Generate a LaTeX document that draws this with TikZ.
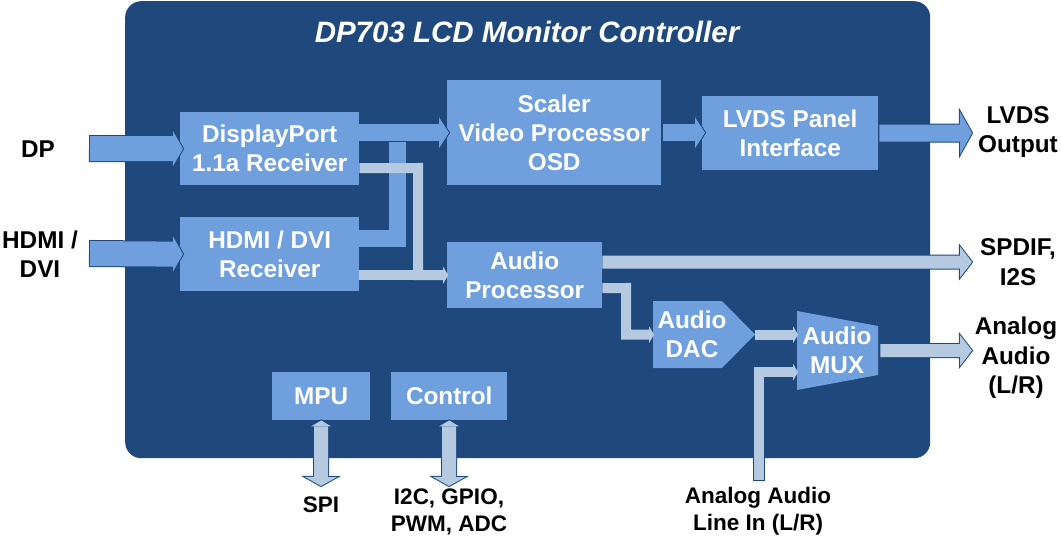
\documentclass[tikz,border=0pt]{standalone}
\usepackage{fontspec}
\setmainfont{Liberation Sans}
\usetikzlibrary{arrows.meta}
\definecolor{bgblue}{RGB}{31,73,125}
\definecolor{boxblue}{RGB}{111,160,221}
\definecolor{lineblue}{RGB}{181,201,225}
\newcommand\boxfont{\bfseries\fontsize{24.3}{29}\selectfont}
\newcommand\lblfont{\bfseries\fontsize{24.3}{29.5}\selectfont}
\newcommand\btmfont{\bfseries\fontsize{22.5}{27}\selectfont}
\newcommand\titlefont{\bfseries\itshape\fontsize{29.5}{34}\selectfont}
\tikzset{
  blk/.style={fill=boxblue, text=white, font=\boxfont, align=center, inner sep=0pt, anchor=north west},
  txt/.style={text=white, font=\boxfont, align=center, inner sep=0pt},
  helper/.style={inner sep=0pt, anchor=north west},
  lbl/.style={text=black, font=\lblfont, align=center, inner sep=0pt},
  btm/.style={text=black, font=\btmfont, align=center, inner sep=0pt},
  arrA/.style={draw=boxblue, line width=25pt, -{Triangle[width=35pt,length=10pt,line width=0pt]},
    preaction={draw=bgblue, line width=27pt, -{Triangle[width=43pt,length=12.3pt,line width=0pt]}, shorten >=-1.2pt, shorten <=-1pt}},
  arrB/.style={draw=boxblue, line width=17pt, -{Triangle[width=31pt,length=10pt,line width=0pt]},
    preaction={draw=bgblue, line width=19pt, -{Triangle[width=37.8pt,length=12.2pt,line width=0pt]}, shorten >=-1.2pt}},
  lineB/.style={draw=boxblue, line width=17pt},
  arrC/.style={draw=lineblue, line width=10pt, -{Triangle[width=17pt,length=5pt,line width=0pt]}},
  arrD/.style={draw=boxblue, line width=17pt, -{Triangle[width=43pt,length=12pt,line width=0pt]},
    preaction={draw=bgblue, line width=19pt, -{Triangle[width=50.7pt,length=14.15pt,line width=0pt]}, shorten >=-1.15pt}},
  arrE/.style={draw=lineblue, line width=13pt, -{Triangle[width=31pt,length=12pt,line width=0pt]},
    preaction={draw=bgblue, line width=15pt, -{Triangle[width=36.9pt,length=14.3pt,line width=0pt]}, shorten >=-1.27pt}},
  arrF/.style={draw=lineblue, line width=14pt, {Triangle[width=20pt,length=6pt,line width=0pt]}-{Triangle[width=32pt,length=9pt,line width=0pt]},
    preaction={draw=bgblue, line width=16pt, {Triangle[width=27.2pt,length=8.2pt,line width=0pt]}-{Triangle[width=39.6pt,length=11.15pt,line width=0pt]}, shorten >=-1.15pt, shorten <=-1.17pt}},
  arrG/.style={draw=lineblue, line width=10pt, -{Triangle[width=17pt,length=5pt,line width=0pt]},
    preaction={draw=bgblue, line width=12pt, -, shorten <=-1pt, shorten >=6pt}},
}
\begin{document}
\begin{tikzpicture}[x=1pt,y=-1pt]
\useasboundingbox (0,0) rectangle (1061,541);
% chip body
\node[helper, fill=bgblue, rounded corners=16pt, minimum width=805pt, minimum height=457pt] (chip) at (125,1) {};
\node[text=white, font=\titlefont, inner sep=0pt, anchor=base] (title) at (527,42) {DP703 LCD Monitor Controller};
% blocks
\node[blk, minimum width=179pt, minimum height=73pt] (dprx) at (180,112) {DisplayPort\\1.1a Receiver};
\node[blk, minimum width=179pt, minimum height=74pt] (hdmirx) at (180,217) {HDMI / DVI\\Receiver};
\node[blk, minimum width=214pt, minimum height=105pt] (scaler) at (447,80) {Scaler\\Video Processor\\OSD};
\node[blk, minimum width=176pt, minimum height=74pt] (lvds) at (702,96) {LVDS Panel\\Interface};
\node[blk, minimum width=155pt, minimum height=66pt] (audio) at (447,242) {Audio\\Processor};
\node[blk, minimum width=98pt, minimum height=48pt] (mpu) at (272,372) {MPU};
\node[blk, minimum width=116pt, minimum height=48pt] (ctrl) at (391,372) {Control};
% DAC (pentagon) and MUX (trapezium)
\fill[boxblue] (653,301) -- (722,301) -- (755,334.5) -- (722,368) -- (653,368) -- cycle;
\node[helper, minimum width=102pt, minimum height=67pt] (dac) at (653,301) {};
\node[txt] (dactxt) at (692,334) {Audio\\DAC};
\fill[boxblue] (797,311) -- (878,326) -- (878,375) -- (797,390) -- cycle;
\node[helper, minimum width=81pt, minimum height=79pt] (mux) at (797,311) {};
\node[txt] (muxtxt) at (837,350) {Audio\\MUX};
% external labels
\node[lbl] (dplbl) at (38,149) {DP};
\node[lbl] (hdmilbl) at (40,254) {HDMI /\\DVI};
\node[lbl] (lvdslbl) at (1018,132) {LVDS\\Output};
\node[lbl] (spdiflbl) at (1018,262) {SPDIF,\\I2S};
\node[lbl] (analbl) at (1016,358) {Analog\\Audio\\(L/R)};
\node[btm] (spilbl) at (321,505) {SPI};
\node[btm] (ctllbl) at (449,512) {I2C, GPIO,\\PWM, ADC};
\node[btm] (linlbl) at (758,511) {Analog Audio\\Line In (L/R)};
% free ends
\coordinate (dpin) at (90,148.5);
\coordinate (hdmiin) at (90,253.5);
\coordinate (join) at (397,132.5);
\coordinate (gcorner) at (418,168);
\coordinate (acorner) at (626,288);
\coordinate (linein) at (759,480);
\coordinate (lvdsout) at (972,133);
\coordinate (spdifout) at (972,262);
\coordinate (anaout) at (972,350.5);
\coordinate (spiout) at (321,486);
\coordinate (ctlout) at (449,486);
% inputs
\draw[arrA] (dpin) -- ([xshift=3pt]dprx.west);
\draw[arrA] (hdmiin) -- ([xshift=3pt]hdmirx.west);
% video paths
\draw[lineB] ([yshift=16pt]hdmirx.east) -| (join);
\draw[arrB] ([yshift=16pt]dprx.east) -- ([xshift=2pt]scaler.west);
\draw[arrB] ([xshift=2pt]scaler.east) -- ([xshift=3pt]scaler.east -| lvds.west);
\draw[arrD] ([xshift=1pt]lvds.east) -- (lvdsout);
% audio paths
\draw[arrC] ([yshift=-19.5pt]dprx.east) -- (gcorner) |- ([xshift=1pt]audio.west);
\draw[arrC] ([yshift=-21pt]hdmirx.east) -- ([xshift=1pt]audio.west);
\draw[arrE] ([yshift=13pt]audio.east) -- (spdifout);
\draw[arrC] ([yshift=-13pt]audio.east) -- (acorner) |- ([xshift=1pt]dac.west);
\draw[arrC] (dac.east) -- ([xshift=1pt]dac.east -| mux.west);
\draw[arrG] (linein) |- ([xshift=1pt,yshift=-21.5pt]mux.west);
\draw[arrE] ([xshift=2pt]mux.east) -- (anaout);
% control
\draw[arrF] (mpu.south) -- (spiout);
\draw[arrF] (ctrl.south) -- (ctlout);
\end{tikzpicture}
\end{document}
